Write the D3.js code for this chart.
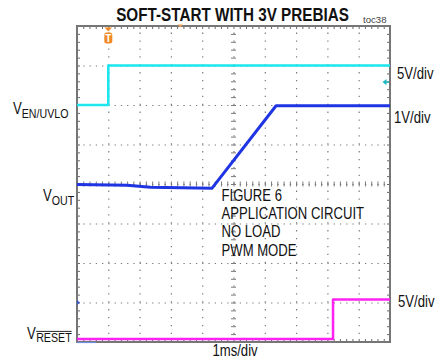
<!DOCTYPE html>
<html><head><meta charset="utf-8">
<script src="https://cdn.jsdelivr.net/npm/d3@7"></script>
<style>
html,body{margin:0;padding:0;background:#fff;}
svg{display:block;font-family:"Liberation Sans",Arial,sans-serif;}
</style></head><body>
<svg id="chart" width="443" height="362"></svg>
<script>
// Horizontal: 10 divisions at 1 ms/div. Vertical: 8 divisions.
const timeDomainMs = [0, 10];
const divDomain = [-4, 4];

// V_EN/UVLO, 5V/div
const enTimeMs = [0, 1.0, 1.0, 10];
const enVolts  = [0, 0, 5, 5];
// V_OUT, 1V/div, 3V prebias then soft-start ramp
const voutTimeMs = [0, 1.6, 2.35, 4.31, 6.36, 10];
const voutVolts  = [2.99, 2.97, 2.92, 2.89, 4.98, 4.98];
// V_RESET, 5V/div
const resetTimeMs = [0, 8.18, 8.18, 10];
const resetVolts  = [0, 0, 5, 5];

const triggerMs = 1.0;          // trigger position
const triggerLevelV = 2.9;      // trigger level on EN channel

const channelLabels = ["EN/UVLO", "OUT", "RESET"];
const scaleLabels = ["5V/div", "1V/div", "5V/div"];
const noteLines = ["FIGURE 6", "APPLICATION CIRCUIT", "NO LOAD", "PWM MODE"];

const plot = {left: 77, right: 390, top: 26, bottom: 342};
const NARROW = 0.82;

const svg = d3.select("#chart");
const x = d3.scaleLinear().domain(timeDomainMs).range([plot.left, plot.right]);
const y = d3.scaleLinear().domain(divDomain).range([plot.bottom, plot.top]);
const W = plot.right - plot.left, H = plot.bottom - plot.top;

const channels = [
  {t: enTimeMs, v: enVolts, vpd: 5, zeroDiv: 2, color: "#1de6ef", width: 2.6},
  {t: voutTimeMs, v: voutVolts, vpd: 1, zeroDiv: -3, color: "#1f34e2", width: 3},
  {t: resetTimeMs, v: resetVolts, vpd: 5, zeroDiv: -3.924, color: "#ff22f0", width: 2.5}
];

const majorT = d3.range(1, 10);
const majorDiv = d3.range(-3, 4);
const minorT = d3.range(0, 51).map(i => i * 0.2);
const minorDiv = d3.range(0, 41).map(i => -4 + i * 0.2);

const gridColor = "#7a7a7a";
function clean(g) { g.select(".domain").remove(); g.selectAll("text").remove(); }

// dotted graticule
svg.append("g").attr("transform", `translate(0,${plot.bottom})`)
  .call(d3.axisBottom(x).tickValues(majorT).tickSize(-H).tickFormat(""))
  .call(clean)
  .selectAll("line").attr("stroke", gridColor).attr("stroke-width", 1.2)
  .attr("stroke-dasharray", `1.3,${H / 40 - 1.3}`);
svg.append("g").attr("transform", `translate(${plot.left},0)`)
  .call(d3.axisLeft(y).tickValues(majorDiv).tickSize(-W).tickFormat(""))
  .call(clean)
  .selectAll("line").attr("stroke", gridColor).attr("stroke-width", 1.2)
  .attr("stroke-dasharray", `1.3,${W / 50 - 1.3}`);

// minor ticks on the centre axes
svg.append("g").attr("transform", `translate(${x(5) + 2.5},0)`)
  .call(d3.axisLeft(y).tickValues(minorDiv).tickSize(5).tickFormat(""))
  .call(clean).selectAll("line").attr("stroke", gridColor);
svg.append("g").attr("transform", `translate(0,${y(0) - 2.5})`)
  .call(d3.axisBottom(x).tickValues(minorT).tickSize(5).tickFormat(""))
  .call(clean).selectAll("line").attr("stroke", gridColor);

// minor ticks along the frame
const edge = [
  [d3.axisBottom(x).tickValues(minorT), `translate(0,${plot.top})`],
  [d3.axisTop(x).tickValues(minorT), `translate(0,${plot.bottom})`],
  [d3.axisRight(y).tickValues(minorDiv), `translate(${plot.left},0)`],
  [d3.axisLeft(y).tickValues(minorDiv), `translate(${plot.right},0)`]
];
edge.forEach(([ax, tr]) => {
  svg.append("g").attr("transform", tr)
    .call(ax.tickSize(3).tickFormat("")).call(clean)
    .selectAll("line").attr("stroke", "#6a6a6a");
});

// frame
svg.append("rect").attr("x", plot.left).attr("y", plot.top)
  .attr("width", W).attr("height", H)
  .attr("fill", "none").attr("stroke", "#767676").attr("stroke-width", 2);

// traces
svg.append("clipPath").attr("id", "clip").append("rect")
  .attr("x", plot.left).attr("y", plot.top).attr("width", W).attr("height", H);
const traces = svg.append("g").attr("clip-path", "url(#clip)");
channels.forEach(ch => {
  const pts = ch.t.map((t, i) => ({t, v: ch.v[i]}));
  const line = d3.line().x(d => x(d.t)).y(d => y(ch.zeroDiv + d.v / ch.vpd));
  traces.append("path").datum(pts).attr("d", line)
    .attr("fill", "none").attr("stroke", ch.color)
    .attr("stroke-width", ch.width).attr("stroke-linejoin", "round");
});

// VOUT ground reference marker on the left edge
const gy = y(channels[1].zeroDiv);
svg.append("path")
  .attr("d", `M${plot.left},${gy - 2.5}L${plot.left + 3},${gy}L${plot.left},${gy + 2.5}Z`)
  .attr("fill", "#3b5bd0");
// record-length indicator under the trace
svg.append("line").attr("x1", x(0)).attr("x2", x(0.6))
  .attr("y1", plot.bottom + 0.5).attr("y2", plot.bottom + 0.5)
  .attr("stroke", "#6f8ee0").attr("stroke-width", 1.2);

// trigger level arrow on the right edge (EN channel)
const ty = y(channels[0].zeroDiv + triggerLevelV / channels[0].vpd);
svg.append("path")
  .attr("d", `M${plot.right - 7.5},${ty}L${plot.right - 3.5},${ty - 3.2}L${plot.right - 3.5},${ty + 3.2}Z`)
  .attr("fill", "#1fb7c4");
svg.append("line").attr("x1", plot.right - 4).attr("x2", plot.right - 1)
  .attr("y1", ty).attr("y2", ty).attr("stroke", "#1fb7c4").attr("stroke-width", 1.5);

// trigger position marker
const tx = x(triggerMs);
const trig = svg.append("g").attr("fill", "#f08a24");
trig.append("path").attr("d", `M${tx - 3.8},${plot.top + 1.5}L${tx + 3.8},${plot.top + 1.5}L${tx},${plot.top + 5.5}Z`);
trig.append("rect").attr("x", tx - 4).attr("y", plot.top + 6.6)
  .attr("width", 8).attr("height", 11).attr("rx", 2.4);
trig.append("text").attr("x", tx).attr("y", plot.top + 15.6)
  .attr("text-anchor", "middle").attr("font-size", 10).attr("font-weight", "bold")
  .attr("fill", "#fff").text("T");
// horizontal position marker on the top edge
svg.append("path")
  .attr("d", `M${x(3.3) - 2.5},${plot.top - 1.5}L${x(3.3) + 2.5},${plot.top - 1.5}L${x(3.3)},${plot.top + 1.5}Z`)
  .attr("fill", "#f3a050");

// condensed text helper
function narrow(px, py) {
  return svg.append("g").attr("transform", `translate(${px},${py}) scale(${NARROW},1)`);
}

// title
narrow(232.5, 21).append("text").attr("text-anchor", "middle")
  .attr("font-size", 18.6).attr("font-weight", "bold").attr("fill", "#111")
  .text("SOFT-START WITH 3V PREBIAS");
svg.append("text").attr("x", 363).attr("y", 22.5).attr("font-size", 9.6)
  .attr("fill", "#444").text("toc38");

// channel names
function channelName(px, py, sub, dy) {
  const g = narrow(px, py);
  const t = g.append("text").attr("font-size", 16).attr("fill", "#111");
  t.append("tspan").text("V");
  t.append("tspan").attr("font-size", 13).attr("dy", dy).text(sub);
  return g;
}
channelName(13, 114, channelLabels[0], 4);
channelName(43, 201, channelLabels[1], 3.5);
const rg = narrow(27, 339);
const vText = rg.append("text").attr("font-size", 16).attr("fill", "#111").text("V");
const vw = vText.node().getComputedTextLength();
const rText = rg.append("text").attr("x", vw + 0.5).attr("y", 3).attr("font-size", 13)
  .attr("fill", "#111").text(channelLabels[2]);
const rw = rText.node().getComputedTextLength();
rg.append("line").attr("x1", vw + 0.5).attr("x2", vw + 0.5 + rw)
  .attr("y1", -7.6).attr("y2", -7.6).attr("stroke", "#111").attr("stroke-width", 1);

// scale labels
[[397, 79], [394, 123], [398, 307]].forEach((p, i) => {
  narrow(p[0], p[1]).append("text").attr("font-size", 16).attr("fill", "#111").text(scaleLabels[i]);
});

// time base
narrow(235, 356).append("text").attr("text-anchor", "middle")
  .attr("font-size", 16).attr("fill", "#111").text("1ms/div");

// test conditions
const note = narrow(221.5, 201).append("text").attr("font-size", 16).attr("fill", "#111");
noteLines.forEach((s, i) => {
  note.append("tspan").attr("x", 0).attr("y", i * 18.2).text(s);
});
</script>
</body></html>
